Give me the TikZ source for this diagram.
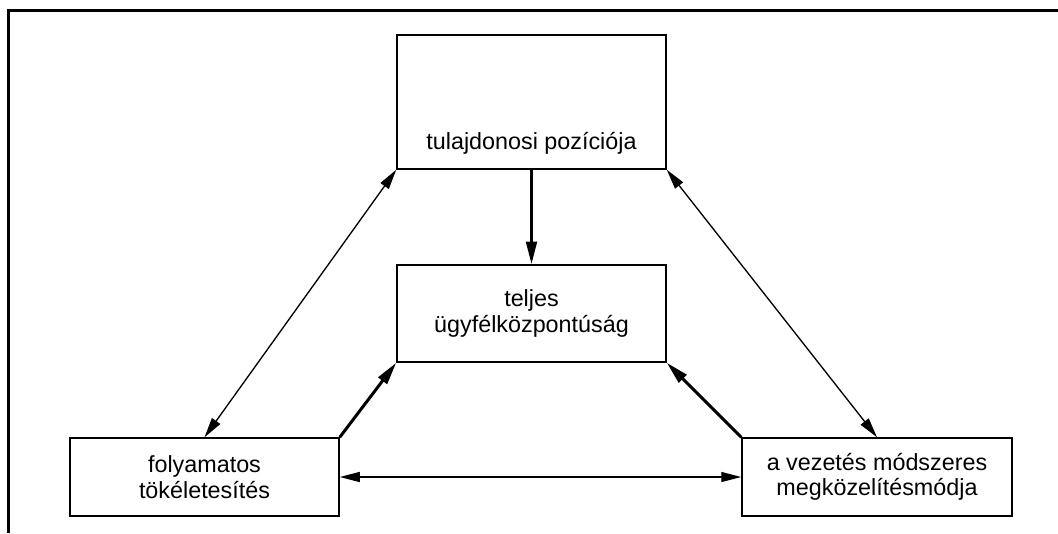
\documentclass[tikz,border=0pt]{standalone}
\usepackage{fontspec}
\setmainfont{Liberation Sans}
\usetikzlibrary{arrows.meta}
\begin{document}
\begin{tikzpicture}[x=0.75pt,y=-0.75pt,
  box/.style={draw,line width=1.125pt,inner sep=0pt,align=center,font=\fontsize{17.5}{19}\selectfont},
  lbl/.style={font=\fontsize{17.5}{19}\selectfont,align=center,inner sep=0pt},
  thin/.style={line width=1pt,{Triangle[length=15pt,width=7.5pt]}-{Triangle[length=15pt,width=7.5pt]}},
  thick/.style={line width=2.25pt,-{Triangle[length=17pt,width=8pt]}}]
\useasboundingbox (0,0) rectangle (1058,533);
\draw[line width=2.25pt] (8,533) coordinate (fl) -- (8,10) coordinate (fc) -- (1058,10) coordinate (fr);
\node[box,minimum width=201.75pt,minimum height=100.5pt] (top) at (531.5,102) {};
\node[lbl] (toptext) at (531.5,143) {tulajdonosi pozíciója};
\node[box,minimum width=201.75pt,minimum height=72.75pt] (mid) at (531.5,313.5) {teljes\\ügyfélközpontúság};
\node[box,minimum width=201.75pt,minimum height=58.5pt] (left) at (204.5,477) {folyamatos\\tökéletesítés};
\node[box,minimum width=202.5pt,minimum height=58.5pt] (right) at (877,477) {a vezetés módszeres\\megközelítésmódja};
\draw[thin] (top.south west) -- (left.north);
\draw[thin] (top.south east) -- (right.north);
\draw[thin] (left.east) -- (right.west);
\draw[thick] (top.south) -- (mid.north);
\draw[thick] (left.north east) -- (mid.south west);
\draw[thick] (right.north west) -- (mid.south east);
\end{tikzpicture}
\end{document}
